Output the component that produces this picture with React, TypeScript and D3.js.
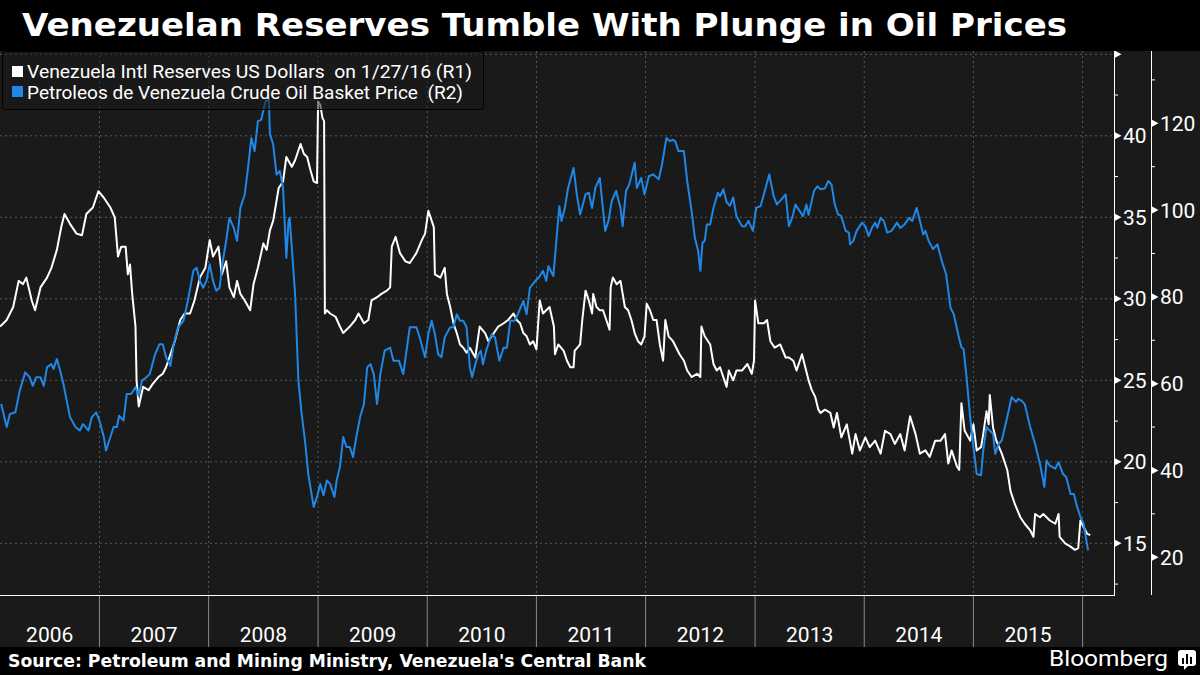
import React from "react";
import * as d3 from "d3";

const TITLE = "Venezuelan Reserves Tumble With Plunge in Oil Prices";
const SOURCE = "Source: Petroleum and Mining Ministry, Venezuela's Central Bank";
const LEGEND_R1 = "Venezuela Intl Reserves US Dollars  on 1/27/16 (R1)";
const LEGEND_R2 = "Petroleos de Venezuela Crude Oil Basket Price  (R2)";

const yearLabels = ["2006", "2007", "2008", "2009", "2010", "2011", "2012", "2013", "2014", "2015"];
const yearBoundaries = [2007, 2008, 2009, 2010, 2011, 2012, 2013, 2014, 2015, 2016];
const r1Ticks = [15, 20, 25, 30, 35, 40];
const r1Grid = [15, 20, 25, 30, 35, 40, 45];
const r1Minor = [12.5, 17.5, 22.5, 27.5, 32.5, 37.5, 42.5];
const r2Ticks = [20, 40, 60, 80, 100, 120];
const r2Minor = [30, 50, 70, 90, 110, 130];

// Venezuela international reserves, US$ bn (R1) — decimal years
const reserveYears = [
  2006.09, 2006.15, 2006.21, 2006.26, 2006.30, 2006.33, 2006.38, 2006.41, 2006.46, 2006.52,
  2006.56, 2006.61, 2006.65, 2006.68, 2006.73, 2006.79, 2006.84, 2006.88, 2006.94, 2006.99,
  2007.04, 2007.10, 2007.14, 2007.17, 2007.20, 2007.24, 2007.26, 2007.28, 2007.30, 2007.33,
  2007.34, 2007.36, 2007.40, 2007.45, 2007.49, 2007.54, 2007.58, 2007.61, 2007.65, 2007.69,
  2007.74, 2007.78, 2007.83, 2007.87, 2007.92, 2007.97, 2008.01, 2008.04, 2008.09, 2008.12,
  2008.16, 2008.19, 2008.23, 2008.26, 2008.29, 2008.33, 2008.38, 2008.41, 2008.45, 2008.50,
  2008.53, 2008.56, 2008.59, 2008.64, 2008.68, 2008.71, 2008.76, 2008.79, 2008.84, 2008.87,
  2008.90, 2008.93, 2008.96, 2008.99, 2009.00, 2009.02, 2009.04, 2009.055, 2009.062, 2009.08,
  2009.11, 2009.16, 2009.20, 2009.23, 2009.29, 2009.34, 2009.37, 2009.42, 2009.46, 2009.49,
  2009.54, 2009.58, 2009.63, 2009.66, 2009.675, 2009.71, 2009.75, 2009.80, 2009.84, 2009.90,
  2009.95, 2009.98, 2010.01, 2010.04, 2010.06, 2010.07, 2010.12, 2010.16, 2010.18, 2010.21,
  2010.24, 2010.27, 2010.30, 2010.33, 2010.36, 2010.39, 2010.44, 2010.48, 2010.53, 2010.56,
  2010.61, 2010.65, 2010.70, 2010.74, 2010.79, 2010.82, 2010.85, 2010.88, 2010.91, 2010.94,
  2010.97, 2011.00, 2011.03, 2011.06, 2011.12, 2011.16, 2011.17, 2011.20, 2011.25, 2011.28,
  2011.31, 2011.34, 2011.35, 2011.40, 2011.42, 2011.45, 2011.48, 2011.51, 2011.52, 2011.55,
  2011.58, 2011.61, 2011.64, 2011.67, 2011.68, 2011.70, 2011.735, 2011.77, 2011.79, 2011.81,
  2011.84, 2011.87, 2011.90, 2011.93, 2011.96, 2011.99, 2012.01, 2012.04, 2012.07, 2012.10,
  2012.13, 2012.16, 2012.18, 2012.21, 2012.25, 2012.28, 2012.31, 2012.35, 2012.38, 2012.42,
  2012.47, 2012.50, 2012.51, 2012.54, 2012.59, 2012.62, 2012.65, 2012.68, 2012.71, 2012.74,
  2012.76, 2012.80, 2012.83, 2012.88, 2012.93, 2012.97, 2012.99, 2013.00, 2013.03, 2013.08,
  2013.11, 2013.14, 2013.18, 2013.23, 2013.28, 2013.31, 2013.35, 2013.38, 2013.43, 2013.46,
  2013.49, 2013.52, 2013.55, 2013.58, 2013.60, 2013.64, 2013.69, 2013.72, 2013.75, 2013.79,
  2013.84, 2013.89, 2013.92, 2013.96, 2014.01, 2014.05, 2014.10, 2014.15, 2014.19, 2014.24,
  2014.28, 2014.33, 2014.37, 2014.42, 2014.47, 2014.51, 2014.56, 2014.60, 2014.65, 2014.70,
  2014.74, 2014.77, 2014.80, 2014.85, 2014.87, 2014.89, 2014.92, 2014.97, 2015.00, 2015.03,
  2015.07, 2015.09, 2015.12, 2015.14, 2015.15, 2015.18, 2015.21, 2015.26, 2015.31, 2015.34,
  2015.38, 2015.43, 2015.47, 2015.52, 2015.55, 2015.565, 2015.61, 2015.64, 2015.67, 2015.70,
  2015.75, 2015.78, 2015.79, 2015.84, 2015.89, 2015.93, 2015.96, 2015.98, 2016.01, 2016.04,
  2016.07,
];
const reserveValues = [
  28.3, 28.7, 29.5, 31.1, 30.9, 31.3, 29.9, 29.3, 30.7, 31.3,
  31.9, 33.0, 34.4, 35.2, 34.6, 34.0, 33.9, 35.2, 35.6, 36.6,
  36.2, 35.6, 35.0, 32.6, 33.2, 33.2, 31.5, 32.1, 30.3, 28.3,
  25.0, 23.4, 24.6, 24.4, 24.8, 25.2, 25.4, 25.8, 26.6, 27.4,
  28.7, 29.1, 29.1, 29.9, 31.3, 31.9, 33.6, 32.6, 33.2, 31.5,
  32.3, 30.7, 30.1, 31.1, 30.3, 29.9, 29.3, 30.9, 31.9, 33.4,
  33.0, 34.2, 34.8, 36.8, 37.2, 38.7, 38.1, 38.5, 39.5, 38.9,
  38.7, 37.9, 37.2, 37.1, 42.1, 41.9, 41.1, 40.9, 29.1, 29.3,
  29.1, 28.9, 28.3, 27.9, 28.3, 28.7, 29.1, 28.5, 28.7, 29.9,
  30.1, 30.3, 30.5, 30.7, 33.2, 33.8, 32.8, 32.3, 32.2, 32.8,
  33.6, 34.0, 35.4, 34.8, 34.4, 31.5, 31.3, 31.9, 30.3, 29.5,
  28.5, 27.9, 27.2, 27.0, 26.7, 27.0, 26.4, 28.3, 27.9, 27.4,
  27.9, 28.3, 28.5, 28.7, 29.1, 28.7, 28.5, 27.9, 27.7, 27.2,
  27.4, 26.9, 29.9, 29.1, 29.5, 28.3, 26.6, 27.2, 26.8, 26.2,
  25.8, 25.8, 26.8, 27.2, 28.7, 30.5, 29.9, 29.1, 30.3, 29.5,
  29.3, 29.3, 28.7, 28.1, 30.7, 31.3, 30.9, 31.1, 30.3, 29.5,
  29.3, 28.7, 27.9, 27.4, 27.2, 27.7, 29.7, 29.3, 28.7, 28.7,
  27.2, 26.2, 28.7, 27.7, 27.4, 27.0, 26.6, 26.2, 25.6, 25.2,
  25.4, 25.2, 28.3, 27.7, 27.2, 26.0, 25.6, 25.8, 25.2, 24.6,
  25.6, 25.0, 25.6, 25.6, 26.0, 25.4, 26.2, 29.9, 28.5, 28.5,
  28.7, 27.4, 27.0, 27.2, 26.4, 26.4, 26.2, 25.6, 26.6, 25.8,
  25.0, 24.4, 24.0, 23.2, 23.0, 23.2, 23.0, 22.1, 23.0, 21.5,
  22.3, 20.5, 21.7, 20.7, 21.5, 20.9, 21.3, 20.5, 21.9, 21.7,
  21.1, 21.7, 20.7, 22.8, 21.7, 20.5, 20.7, 20.3, 21.3, 21.3,
  21.7, 19.9, 20.7, 19.7, 19.5, 23.6, 21.9, 21.3, 22.3, 20.7,
  20.9, 21.7, 23.1, 22.3, 24.1, 22.1, 21.3, 20.5, 19.5, 18.2,
  17.4, 16.6, 16.2, 15.8, 15.4, 16.8, 16.6, 16.8, 16.6, 16.4,
  16.2, 16.8, 15.4, 15.0, 14.8, 14.6, 14.7, 16.4, 16.0, 15.6,
  15.5,
];

// PDVSA crude oil basket price, US$/bbl (R2) — decimal years
const oilYears = [
  2006.10, 2006.15, 2006.18, 2006.23, 2006.27, 2006.32, 2006.36, 2006.39, 2006.42, 2006.46,
  2006.49, 2006.52, 2006.56, 2006.58, 2006.61, 2006.64, 2006.67, 2006.70, 2006.73, 2006.78,
  2006.82, 2006.85, 2006.90, 2006.93, 2006.97, 2007.00, 2007.04, 2007.06, 2007.10, 2007.13,
  2007.16, 2007.18, 2007.22, 2007.25, 2007.29, 2007.33, 2007.36, 2007.39, 2007.43, 2007.46,
  2007.51, 2007.55, 2007.58, 2007.61, 2007.65, 2007.68, 2007.72, 2007.77, 2007.81, 2007.86,
  2007.89, 2007.92, 2007.95, 2007.98, 2008.01, 2008.04, 2008.07, 2008.10, 2008.13, 2008.16,
  2008.19, 2008.23, 2008.26, 2008.29, 2008.33, 2008.36, 2008.39, 2008.42, 2008.45, 2008.48,
  2008.52, 2008.55, 2008.56, 2008.59, 2008.62, 2008.65, 2008.68, 2008.71, 2008.73, 2008.74,
  2008.76, 2008.79, 2008.82, 2008.85, 2008.88, 2008.91, 2008.94, 2008.96, 2008.99, 2009.02,
  2009.05, 2009.08, 2009.11, 2009.15, 2009.17, 2009.20, 2009.23, 2009.26, 2009.29, 2009.32,
  2009.35, 2009.385, 2009.42, 2009.45, 2009.48, 2009.51, 2009.54, 2009.57, 2009.61, 2009.66,
  2009.69, 2009.74, 2009.78, 2009.81, 2009.84, 2009.90, 2009.93, 2009.98, 2010.01, 2010.04,
  2010.07, 2010.10, 2010.13, 2010.16, 2010.21, 2010.24, 2010.27, 2010.30, 2010.33, 2010.36,
  2010.39, 2010.41, 2010.44, 2010.47, 2010.49, 2010.51, 2010.54, 2010.59, 2010.62, 2010.66,
  2010.70, 2010.73, 2010.76, 2010.80, 2010.83, 2010.88, 2010.91, 2010.94, 2010.99, 2011.02,
  2011.06, 2011.09, 2011.11, 2011.155, 2011.19, 2011.21, 2011.23, 2011.26, 2011.29, 2011.34,
  2011.37, 2011.40, 2011.45, 2011.48, 2011.51, 2011.54, 2011.58, 2011.63, 2011.66, 2011.69,
  2011.73, 2011.77, 2011.79, 2011.82, 2011.85, 2011.90, 2011.92, 2011.96, 2011.99, 2012.03,
  2012.07, 2012.12, 2012.15, 2012.19, 2012.22, 2012.25, 2012.27, 2012.30, 2012.35, 2012.38,
  2012.42, 2012.45, 2012.48, 2012.50, 2012.52, 2012.54, 2012.56, 2012.59, 2012.62, 2012.66,
  2012.68, 2012.71, 2012.74, 2012.77, 2012.80, 2012.83, 2012.88, 2012.91, 2012.94, 2012.98,
  2013.01, 2013.05, 2013.08, 2013.13, 2013.17, 2013.20, 2013.24, 2013.28, 2013.31, 2013.34,
  2013.37, 2013.40, 2013.44, 2013.47, 2013.49, 2013.54, 2013.57, 2013.60, 2013.64, 2013.67,
  2013.70, 2013.73, 2013.76, 2013.79, 2013.83, 2013.86, 2013.87, 2013.90, 2013.93, 2013.98,
  2014.01, 2014.04, 2014.07, 2014.10, 2014.12, 2014.15, 2014.18, 2014.21, 2014.25, 2014.30,
  2014.33, 2014.37, 2014.41, 2014.44, 2014.48, 2014.51, 2014.54, 2014.56, 2014.59, 2014.63,
  2014.67, 2014.71, 2014.75, 2014.79, 2014.82, 2014.86, 2014.89, 2014.91, 2014.94, 2014.97,
  2015.00, 2015.03, 2015.07, 2015.09, 2015.12, 2015.15, 2015.18, 2015.20, 2015.23, 2015.26,
  2015.31, 2015.35, 2015.39, 2015.41, 2015.44, 2015.47, 2015.52, 2015.565, 2015.61, 2015.65,
  2015.67, 2015.70, 2015.75, 2015.78, 2015.82, 2015.85, 2015.89, 2015.92, 2015.95, 2015.98,
  2016.01, 2016.05,
];
const oilValues = [
  55.3, 50.0, 53.0, 53.4, 58.4, 62.6, 61.5, 59.5, 61.5, 61.5,
  59.5, 63.8, 64.5, 63.4, 65.7, 63.0, 59.9, 56.1, 52.3, 50.0,
  49.2, 50.7, 49.2, 52.3, 53.4, 51.5, 47.7, 44.6, 47.7, 50.0,
  50.0, 52.6, 51.5, 57.6, 57.6, 59.2, 57.2, 60.7, 61.5, 62.2,
  66.8, 69.1, 69.1, 66.1, 64.1, 69.1, 73.0, 74.5, 79.1, 86.0,
  86.7, 83.7, 82.1, 83.7, 87.5, 83.7, 81.4, 82.1, 88.3, 92.9,
  98.2, 95.9, 92.9, 100.5, 103.6, 109.7, 116.6, 113.6, 120.5, 120.8,
  125.1, 125.4, 117.5, 115.1, 108.2, 109.0, 105.1, 89.0, 97.5, 98.2,
  91.3, 80.6, 60.7, 53.0, 46.9, 39.2, 34.6, 31.6, 33.9, 36.9,
  34.3, 37.7, 36.9, 33.9, 37.7, 40.8, 47.7, 45.4, 45.4, 43.1,
  47.7, 52.3, 55.3, 63.8, 64.5, 62.2, 55.3, 62.2, 67.6, 68.3,
  65.3, 65.3, 62.2, 67.6, 73.0, 73.0, 70.7, 66.1, 71.4, 74.5,
  71.4, 66.8, 66.1, 70.7, 73.0, 73.0, 76.0, 74.5, 74.5, 73.0,
  63.8, 61.5, 64.5, 66.8, 67.6, 64.5, 67.6, 71.4, 70.7, 65.3,
  68.3, 68.3, 74.5, 74.5, 76.0, 79.1, 76.0, 82.1, 83.7, 84.4,
  86.0, 83.7, 87.1, 84.8, 95.2, 100.9, 97.5, 100.5, 105.1, 109.7,
  103.6, 99.0, 103.6, 104.0, 100.5, 105.1, 107.4, 95.2, 97.5, 102.1,
  104.4, 100.5, 96.3, 104.4, 105.9, 110.9, 105.1, 107.4, 103.6, 107.8,
  108.2, 107.1, 110.5, 116.6, 115.9, 116.2, 115.9, 113.6, 113.6, 106.7,
  99.8, 93.6, 90.6, 86.0, 92.5, 92.9, 96.7, 96.7, 100.5, 104.0,
  103.2, 104.8, 101.8, 101.0, 102.9, 98.6, 96.3, 96.3, 97.5, 95.2,
  100.5, 100.9, 103.6, 108.2, 103.2, 101.3, 102.4, 103.6, 96.3, 98.2,
  101.3, 100.1, 98.6, 101.3, 98.9, 104.4, 105.5, 104.8, 105.0, 106.7,
  105.9, 101.3, 99.0, 98.6, 95.2, 94.8, 92.1, 92.9, 95.2, 97.1,
  96.3, 94.0, 95.9, 97.1, 95.9, 98.2, 97.5, 94.8, 95.2, 97.1,
  95.9, 96.7, 98.2, 97.5, 100.5, 97.5, 94.4, 95.2, 92.9, 91.0,
  92.1, 88.3, 85.2, 77.5, 76.0, 71.4, 68.4, 68.0, 60.7, 52.3,
  45.4, 39.2, 38.9, 44.6, 50.0, 49.2, 48.4, 43.8, 46.1, 46.9,
  52.3, 56.9, 55.8, 56.5, 56.1, 55.3, 50.0, 46.1, 41.5, 36.2,
  42.3, 41.1, 40.4, 41.9, 39.2, 38.5, 34.6, 34.6, 31.6, 29.3,
  27.7, 21.6,
];

function decYear(y: number): Date {
  const yr = Math.floor(y);
  const start = new Date(yr, 0, 1).getTime();
  const end = new Date(yr + 1, 0, 1).getTime();
  return new Date(start + (y - yr) * (end - start));
}

const W = 1200;
const H = 675;
const PLOT_L = 0;
const PLOT_R = 1114;
const PLOT_T = 51;
const PLOT_B = 595;
const AXIS2_X = 1151;
const BG = "#1a1a1a";
const BLUE = "#1f87e5";
const GRID = "#5a5a5a";
const FONT = "Roboto, 'DejaVu Sans', sans-serif";

export default function App() {
  const x = d3.scaleTime().domain([decYear(2006.089), decYear(2016.287)]).range([PLOT_L, PLOT_R]);
  const yR1 = d3.scaleLinear().domain([11.83, 45]).range([PLOT_B, 54.3]);
  const yR2 = d3.scaleLinear().domain([11.3, 135.9]).range([PLOT_B, 54.3]);

  const reserves = reserveYears.map((t, i) => ({ d: decYear(t), v: reserveValues[i] }));
  const oil = oilYears.map((t, i) => ({ d: decYear(t), v: oilValues[i] }));

  const lineR1 = d3.line<{ d: Date; v: number }>().x((p) => x(p.d)).y((p) => yR1(p.v));
  const lineR2 = d3.line<{ d: Date; v: number }>().x((p) => x(p.d)).y((p) => yR2(p.v));

  const bx = yearBoundaries.map((y) => x(new Date(y, 0, 1)));
  const labelCenters = yearLabels.map((_, i) => {
    const left = i === 0 ? PLOT_L : bx[i - 1];
    return (left + bx[i]) / 2;
  });

  const tri = (ax: number, ty: number) => `M${ax + 1},${ty - 3.5} L${ax + 7.5},${ty} L${ax + 1},${ty + 3.5} Z`;

  return (
    <>
      <style>{`body{margin:0;background:#000}`}</style>
      <svg width={W} height={H} style={{ display: "block" }} xmlns="http://www.w3.org/2000/svg">
        <rect x={0} y={0} width={W} height={H} fill={BG} />
        {/* title band */}
        <rect x={0} y={0} width={W} height={PLOT_T} fill="#000" />
        <text x={22} y={36} fill="#fff" fontFamily="'DejaVu Sans', sans-serif" fontWeight="bold" fontSize={32}
          textLength={1045} lengthAdjust="spacingAndGlyphs">{TITLE}</text>

        {/* horizontal grid (R1) */}
        {r1Grid.map((v) => (
          <line key={"hg" + v} x1={PLOT_L} x2={PLOT_R} y1={yR1(v)} y2={yR1(v)} stroke={GRID} strokeDasharray="2,3" strokeWidth={1} />
        ))}
        {/* vertical grid */}
        {bx.map((bxv, i) => (
          <line key={"vg" + i} x1={bxv} x2={bxv} y1={PLOT_T} y2={PLOT_B} stroke={GRID} strokeDasharray="2,3" strokeWidth={1} />
        ))}

        {/* series */}
        <path d={lineR1(reserves) || ""} fill="none" stroke="#fff" strokeWidth={2} strokeLinejoin="round" />
        <path d={lineR2(oil) || ""} fill="none" stroke={BLUE} strokeWidth={2} strokeLinejoin="round" />

        {/* legend */}
        <rect x={2.5} y={51.5} width={481} height={58} rx={3} fill="rgba(26,26,26,0.55)" stroke="#000" strokeWidth={1} />
        <rect x={12} y={66} width={11} height={11} fill="#fff" />
        <rect x={12} y={86} width={11} height={11} fill={BLUE} />
        <text x={27} y={78} fill="#fff" fontFamily={FONT} fontSize={19} style={{ whiteSpace: "pre" }}
          textLength={445} lengthAdjust="spacingAndGlyphs">{LEGEND_R1}</text>
        <text x={27} y={99} fill="#fff" fontFamily={FONT} fontSize={19} style={{ whiteSpace: "pre" }}
          textLength={436} lengthAdjust="spacingAndGlyphs">{LEGEND_R2}</text>

        {/* x axis */}
        <line x1={PLOT_L} x2={PLOT_R} y1={PLOT_B + 0.5} y2={PLOT_B + 0.5} stroke="#fff" strokeWidth={1} />
        {bx.map((bxv, i) => (
          <line key={"sep" + i} x1={bxv} x2={bxv} y1={PLOT_B + 1} y2={647} stroke="#8a8a8a" strokeWidth={1} />
        ))}
        {yearLabels.map((lab, i) => (
          <text key={lab} x={labelCenters[i]} y={642} fill="#fff" fontFamily={FONT} fontSize={21} textAnchor="middle">{lab}</text>
        ))}

        {/* R1 axis */}
        <line x1={PLOT_R + 0.5} x2={PLOT_R + 0.5} y1={PLOT_T} y2={PLOT_B + 1} stroke="#fff" strokeWidth={1} />
        {r1Minor.map((v) => (
          <line key={"r1m" + v} x1={PLOT_R} x2={PLOT_R + 4} y1={yR1(v)} y2={yR1(v)} stroke="#fff" strokeWidth={1} />
        ))}
        <path d={tri(PLOT_R, yR1(45))} fill="#fff" />
        {r1Ticks.map((v) => (
          <g key={"r1" + v}>
            <path d={tri(PLOT_R, yR1(v))} fill="#fff" />
            <text x={PLOT_R + 9} y={yR1(v)} dy="0.36em" fill="#fff" fontFamily={FONT} fontSize={21}>{v}</text>
          </g>
        ))}

        {/* R2 axis */}
        <line x1={AXIS2_X + 0.5} x2={AXIS2_X + 0.5} y1={PLOT_T} y2={PLOT_B} stroke="#fff" strokeWidth={1} />
        {r2Minor.map((v) => (
          <line key={"r2m" + v} x1={AXIS2_X} x2={AXIS2_X + 4} y1={yR2(v)} y2={yR2(v)} stroke="#fff" strokeWidth={1} />
        ))}
        {r2Ticks.map((v) => (
          <g key={"r2" + v}>
            <path d={tri(AXIS2_X, yR2(v))} fill="#fff" />
            <text x={AXIS2_X + 9} y={yR2(v)} dy="0.36em" fill="#fff" fontFamily={FONT} fontSize={21}>{v}</text>
          </g>
        ))}

        {/* footer */}
        <rect x={0} y={647} width={W} height={H - 647} fill="#000" />
        <text x={8} y={667} fill="#fff" fontFamily="'DejaVu Sans', sans-serif" fontWeight="bold" fontSize={17}
          textLength={638} lengthAdjust="spacingAndGlyphs">{SOURCE}</text>
        <text x={1168} y={666} fill="#fff" fontFamily={FONT} fontSize={22} textAnchor="end"
          textLength={119} lengthAdjust="spacingAndGlyphs">Bloomberg</text>
        <g>
          <rect x={1178} y={650} width={18} height={16} rx={3} fill="#fff" />
          <path d="M1184,665 L1184,670 L1189,665 Z" fill="#fff" />
          <rect x={1182} y={658} width={2} height={6} fill="#000" />
          <rect x={1186} y={654} width={2} height={10} fill="#000" />
          <rect x={1190} y={657} width={2} height={7} fill="#000" />
        </g>
      </svg>
    </>
  );
}
